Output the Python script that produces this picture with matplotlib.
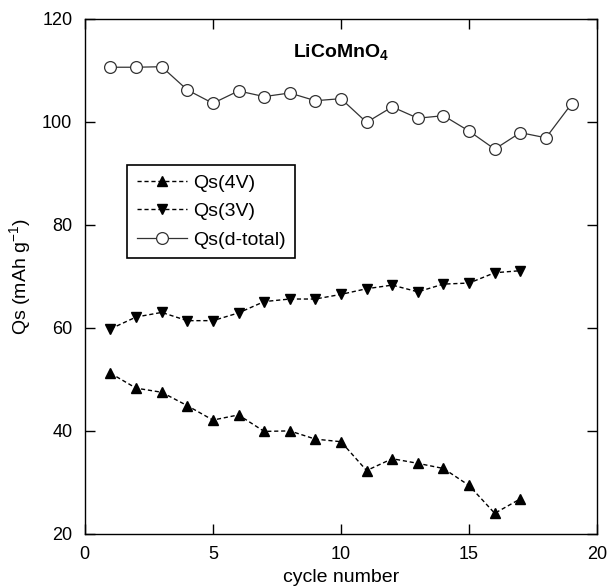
import matplotlib

matplotlib.use("Agg")
import matplotlib.pyplot as plt
from matplotlib.ticker import MultipleLocator

plt.rcParams["font.family"] = ["Liberation Sans", "DejaVu Sans"]
plt.rcParams["mathtext.fontset"] = "custom"
plt.rcParams["mathtext.rm"] = "Liberation Sans"
plt.rcParams["mathtext.bf"] = "Liberation Sans:bold"

cycles_4v = list(range(1, 18))
qs_4v = [51.2, 48.3, 47.5, 44.9, 42.1, 43.1, 39.9, 40.0, 38.4, 37.9,
         32.3, 34.6, 33.7, 32.7, 29.4, 24.0, 26.8]

cycles_3v = list(range(1, 18))
qs_3v = [59.8, 62.1, 63.0, 61.4, 61.4, 62.9, 65.1, 65.6, 65.6, 66.5,
         67.6, 68.3, 67.0, 68.5, 68.7, 70.7, 71.1]

cycles_tot = list(range(1, 20))
qs_tot = [110.6, 110.6, 110.7, 106.2, 103.6, 106.0, 104.9, 105.6, 104.1,
          104.5, 99.9, 102.9, 100.7, 101.2, 98.2, 94.7, 97.9, 96.9, 103.5]

fig = plt.figure(figsize=(6.1, 5.88), dpi=100)
ax = fig.add_axes([0.139, 0.092, 0.840, 0.876])

ax.plot(cycles_4v, qs_4v, ls=(0, (3, 2)), color="black", lw=1.0,
        marker="^", ms=7, mfc="black", mec="black", label="Qs(4V)")
ax.plot(cycles_3v, qs_3v, ls=(0, (3, 2)), color="black", lw=1.0,
        marker="v", ms=7, mfc="black", mec="black", label="Qs(3V)")
ax.plot(cycles_tot, qs_tot, ls="-", color="#333333", lw=0.9,
        marker="o", ms=8.5, mfc="white", mec="#333333", mew=0.9,
        label="Qs(d-total)")

ax.set_xlim(0, 20)
ax.set_ylim(20, 120)
ax.xaxis.set_major_locator(MultipleLocator(5))
ax.yaxis.set_major_locator(MultipleLocator(20))
ax.tick_params(direction="in", length=7, width=1, top=True, right=True,
               labelsize=13, pad=9)
for s in ax.spines.values():
    s.set_linewidth(1.0)

ax.set_xlabel("cycle number", fontsize=14, labelpad=4)
ax.set_ylabel("Qs (mAh g$^{\\mathregular{-1}}$)", fontsize=14)
ax.yaxis.set_label_coords(-0.100, 0.5)

ax.text(10, 113.4, r"LiCoMnO$_\mathbf{4}$", fontsize=14, fontweight="bold",
        ha="center", va="center")

leg = ax.legend(loc="upper left", bbox_to_anchor=(0.082, 0.717),
                borderaxespad=0, fontsize=14, fancybox=False,
                edgecolor="black", framealpha=1, handlelength=2.6,
                handletextpad=0.3, borderpad=0.5, labelspacing=0.55)
leg.get_frame().set_linewidth(1.2)

fig.savefig("out.png", dpi=100)
